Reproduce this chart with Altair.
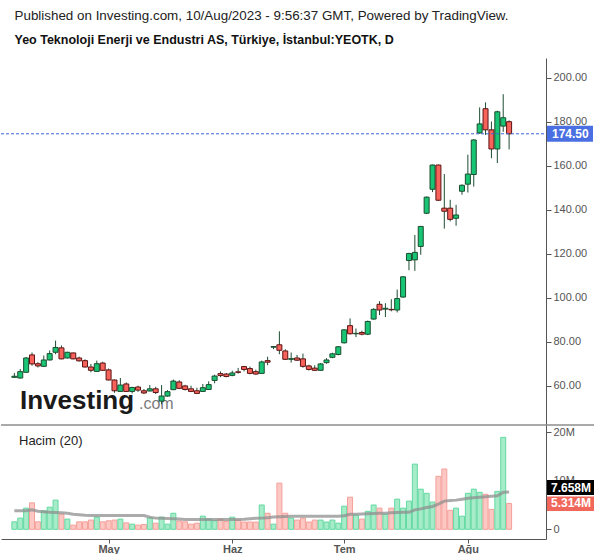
import altair as alt
import pandas as pd

# ---------------- data ----------------
opens = [63.8, 63.5, 66.1, 74.0, 70.0, 68.8, 71.7, 75.2, 77.2, 72.6,
         74.9, 72.6, 71.4, 68.5, 66.5, 70.3, 67.2, 62.6, 57.4, 60.8,
         57.4, 59.4, 57.7, 57.6, 58.6, 53.0, 55.3, 58.2, 61.7, 59.9,
         58.6, 57.7, 57.4, 58.3, 62.4, 65.5, 65.3, 64.7, 66.3, 68.7,
         67.8, 66.4, 65.6, 71.4, 77.5, 78.6, 75.8, 72.0, 72.6, 72.2,
         69.0, 68.0, 67.0, 70.5, 72.9, 74.2, 79.5, 87.3, 83.6, 84.2,
         83.4, 90.3, 97.0, 94.8, 94.7, 94.4, 100.3, 116.9, 117.2, 123.3,
         138.4, 149.3, 160.3, 140.7, 140.7, 136.1, 148.4, 151.6, 156.0, 174.9,
         185.9, 176.3, 167.6, 178.0, 180.0]
highs = [65.8, 67.6, 73.0, 75.1, 70.7, 73.7, 76.0, 80.5, 78.3, 75.4,
         75.0, 73.2, 72.0, 69.9, 71.4, 70.9, 67.8, 62.8, 63.5, 61.5,
         59.5, 60.0, 58.5, 60.3, 59.5, 60.3, 58.0, 62.8, 62.5, 60.4,
         60.0, 59.1, 60.8, 62.0, 65.0, 66.5, 65.8, 66.8, 68.1, 69.0,
         68.7, 67.3, 71.4, 73.2, 77.9, 84.7, 76.6, 75.1, 74.0, 74.6,
         69.5, 69.3, 70.3, 72.5, 75.0, 78.0, 85.6, 90.6, 86.0, 85.0,
         89.6, 95.2, 98.4, 97.5, 99.3, 103.7, 109.8, 120.4, 128.5, 132.6,
         146.0, 160.5, 160.5, 156.2, 144.5, 142.2, 151.5, 165.0, 172.0, 186.5,
         188.8, 180.1, 185.0, 192.5, 180.6]
lows = [63.6, 63.3, 66.0, 69.1, 68.3, 68.6, 71.5, 74.3, 72.0, 72.4,
        72.0, 71.0, 68.3, 66.1, 66.3, 66.8, 62.4, 56.8, 57.2, 57.2,
        56.5, 57.2, 56.2, 57.4, 56.2, 51.6, 55.0, 58.0, 58.5, 57.8,
        57.1, 56.3, 57.2, 58.1, 61.1, 63.9, 63.8, 64.3, 65.5, 66.5,
        65.2, 65.0, 65.4, 69.3, 76.6, 74.3, 71.8, 70.5, 71.2, 68.2,
        66.9, 66.8, 66.8, 70.0, 72.5, 73.8, 79.2, 83.3, 82.1, 82.9,
        83.0, 90.0, 92.1, 91.2, 93.8, 93.3, 100.0, 112.5, 112.2, 119.5,
        138.0, 148.0, 144.0, 131.4, 134.7, 132.7, 146.8, 147.8, 150.5, 174.5,
        174.0, 163.4, 161.2, 175.4, 167.4]
closes = [64.3, 66.4, 72.6, 69.9, 69.0, 71.7, 74.6, 77.4, 72.2, 75.2,
          72.2, 71.3, 68.5, 67.0, 70.0, 67.0, 62.6, 57.7, 60.3, 57.4,
          59.2, 58.0, 56.7, 58.6, 56.9, 55.3, 57.3, 62.1, 58.8, 58.3,
          57.4, 56.5, 59.1, 60.5, 64.4, 64.6, 64.2, 65.8, 66.1, 67.4,
          65.6, 65.3, 70.8, 70.7, 77.8, 76.1, 72.0, 72.3, 71.6, 68.8,
          67.4, 67.0, 69.9, 71.7, 74.5, 77.7, 85.4, 83.6, 83.8, 83.4,
          89.2, 94.7, 94.4, 95.2, 94.5, 99.6, 109.5, 120.1, 120.6, 132.4,
          145.7, 160.3, 144.3, 139.3, 135.6, 137.6, 151.1, 156.2, 171.7, 179.0,
          176.3, 167.6, 184.5, 181.8, 174.5]
volumes = [1.54, 2.3, 4.35, 5.44, 1.54, 3.8, 4.55, 6.0, 3.1, 2.1,
           0.86, 1.54, 1.54, 1.9, 2.5, 1.54, 1.75, 1.9, 2.1, 1.33,
           1.06, 0.86, 1.0, 2.3, 1.26, 2.5, 1.06, 3.3, 1.7, 1.54,
           1.06, 1.26, 2.7, 2.1, 1.75, 2.1, 1.6, 2.5, 1.9, 1.5,
           1.5, 1.5, 5.0, 3.3, 1.06, 9.5, 3.3, 2.3, 1.9, 2.3,
           1.5, 1.9, 1.9, 1.5, 1.9, 1.26, 4.76, 6.6, 2.9, 2.1,
           3.7, 5.0, 4.35, 3.1, 4.35, 6.2, 4.35, 5.8, 13.4, 8.25,
           7.4, 5.6, 10.9, 12.4, 3.9, 4.35, 2.7, 7.4, 8.25, 7.6,
           7.2, 4.1, 7.8, 18.9, 5.314]
vol_ma = [3.8, 3.8, 3.8, 4.0, 3.7, 3.6, 3.5, 3.45, 3.4, 3.3,
          3.1, 3.0, 2.9, 2.85, 2.85, 2.85, 2.85, 2.85, 2.85, 2.85,
          2.85, 2.85, 2.85, 2.5, 2.3, 2.25, 2.2, 2.15, 2.1, 2.0,
          2.0, 2.0, 2.0, 2.0, 2.0, 2.0, 2.0, 2.0, 2.0, 2.05,
          2.15, 2.25, 2.3, 2.4, 2.55, 2.6, 2.65, 2.7, 2.7, 2.7,
          2.7, 2.7, 2.7, 2.7, 2.7, 2.7, 2.8, 3.1, 3.1, 3.15,
          3.2, 3.25, 3.3, 3.3, 3.4, 3.45, 3.5, 3.5, 4.0, 4.2,
          4.5, 4.7, 5.2, 5.8, 5.9, 6.0, 6.2, 6.4, 6.5, 6.6,
          6.7, 6.8, 6.9, 7.6, 7.658]
month_idx = [16, 37, 56, 77]
month_lbl = ["May", "Haz", "Tem", "Ağu"]
price_ticks = [60, 80, 100, 120, 140, 160, 180, 200]
vol_ticks = [0, 10, 20]
last_close = 174.5
last_ma = 7.658
last_vol = 5.314

title_line = "Published on Investing.com, 10/Aug/2023 - 9:56:37 GMT, Powered by TradingView."
subtitle_line = "Yeo Teknoloji Enerji ve Endustri AS, Türkiye, İstanbul:YEOTK, D"

# ---------------- frames ----------------
df = pd.DataFrame({"i": list(range(len(opens))), "open": opens, "high": highs,
                   "low": lows, "close": closes, "vol": volumes, "ma": vol_ma})
last_df = pd.DataFrame({"p": [last_close], "ma": [last_ma], "v": [last_vol]})

FONT = "Liberation Sans"
AX = "#555555"
W, HP, HV = 545, 366, 114

xs = alt.Scale(domain=[-1.417, 89.417], nice=False, zero=False)
ys = alt.Scale(domain=[42.6, 208.95], nice=False, zero=False)
yv = alt.Scale(domain=[-1.99, 21.44], nice=False, zero=False)

up = "datum.close >= datum.open"

# ---------------- price panel ----------------
base = alt.Chart(df).encode(x=alt.X("i:Q", scale=xs, axis=None))

logo1 = alt.Chart(pd.DataFrame({"t": ["Investing"]})).mark_text(
    align="left", baseline="alphabetic", font=FONT, fontSize=26, fontWeight="bold",
    color="#1a1a1a").encode(text="t:N", x=alt.value(19), y=alt.value(351))
logo2 = alt.Chart(pd.DataFrame({"t": [".com"]})).mark_text(
    align="left", baseline="alphabetic", font=FONT, fontSize=16,
    color="#7a7a7a").encode(text="t:N", x=alt.value(138), y=alt.value(351))

wick = base.mark_rule(color="#1e4d33", strokeWidth=1).encode(
    y=alt.Y("low:Q", scale=ys, axis=alt.Axis(
        orient="right", values=price_ticks, format=".2f", title=None, grid=False,
        labelColor=AX, labelFontSize=11, labelFont=FONT, tickColor=AX, tickSize=5,
        domainColor=AX, labelPadding=2)),
    y2="high:Q")
body = base.mark_bar(size=5, strokeWidth=1).encode(
    y=alt.Y("open:Q", scale=ys), y2="close:Q",
    fill=alt.condition(up, alt.value("#17c574"), alt.value("#f7635a")),
    stroke=alt.condition(up, alt.value("#1a4d2e"), alt.value("#5c1414")))

pline = alt.Chart(last_df).mark_rule(color="#3e64d8", strokeDash=[3, 2], strokeWidth=1).encode(
    y=alt.Y("p:Q", scale=ys), x=alt.value(0), x2=alt.value(W))
pbox = alt.Chart(last_df).mark_rect(color="#4a6fe3", yOffset=-8, y2Offset=8).encode(
    y=alt.Y("p:Q", scale=ys), y2="p:Q", x=alt.value(546), x2=alt.value(592))
ptxt = alt.Chart(last_df).mark_text(align="left", baseline="middle", font=FONT, fontSize=12,
                                    fontWeight="bold", color="white").encode(
    y=alt.Y("p:Q", scale=ys), x=alt.value(551), text=alt.Text("p:Q", format=".2f"))

price = alt.layer(logo1, logo2, wick, body, pline, pbox, ptxt).properties(width=W, height=HP)

# ---------------- volume panel ----------------
label_expr = " : ".join(f"datum.value == {v} ? '{t}'" for v, t in zip(month_idx[:-1], month_lbl[:-1])) \
    + f" : '{month_lbl[-1]}'"
vbase = alt.Chart(df).encode(x=alt.X("i:Q", scale=xs, axis=alt.Axis(
    orient="bottom", values=month_idx, labelExpr=label_expr, title=None, grid=False,
    labelColor=AX, labelFontSize=11, labelFontWeight="bold", labelFont=FONT,
    tickColor=AX, tickSize=4, domainColor=AX, labelPadding=0)))

vbars = vbase.mark_bar(size=5, strokeWidth=1).encode(
    y=alt.Y("vol:Q", scale=yv, axis=alt.Axis(
        orient="right", values=vol_ticks, title=None, grid=False,
        labelExpr="datum.value == 0 ? '0' : datum.value + 'M'",
        labelColor=AX, labelFontSize=11, labelFont=FONT, tickColor=AX, tickSize=5,
        domainColor=AX, labelPadding=2)),
    y2=alt.datum(0),
    fill=alt.condition(up, alt.value("#a6ecc9"), alt.value("#fdc7c3")),
    stroke=alt.condition(up, alt.value("#63d9a2"), alt.value("#f5a09a")))
vma = vbase.mark_line(color="#8f8f8f", strokeWidth=3, opacity=0.75).encode(
    y=alt.Y("ma:Q", scale=yv))
sep = alt.Chart(last_df).mark_rule(color=AX, strokeWidth=1).encode(
    x=alt.value(0), x2=alt.value(593), y=alt.value(0))
hacim = alt.Chart(pd.DataFrame({"t": ["Hacim (20)"]})).mark_text(
    align="left", baseline="middle", font=FONT, fontSize=13, color="#222222").encode(
    text="t:N", x=alt.value(18), y=alt.value(16))
mabox = alt.Chart(last_df).mark_rect(color="#000000", yOffset=-12, y2Offset=3).encode(
    y=alt.Y("ma:Q", scale=yv), y2="ma:Q", x=alt.value(546), x2=alt.value(593))
matxt = alt.Chart(last_df).mark_text(align="left", baseline="middle", dy=-4.5, font=FONT,
                                     fontSize=12, fontWeight="bold", color="white").encode(
    y=alt.Y("ma:Q", scale=yv), x=alt.value(550),
    text=alt.Text("label:N")).transform_calculate(label="format(datum.ma, '.3f') + 'M'")
vbox = alt.Chart(last_df).mark_rect(color="#f2675c", yOffset=-7, y2Offset=7.5).encode(
    y=alt.Y("v:Q", scale=yv), y2="v:Q", x=alt.value(546), x2=alt.value(593))
vtxt = alt.Chart(last_df).mark_text(align="left", baseline="middle", font=FONT,
                                    fontSize=12, fontWeight="bold", color="white").encode(
    y=alt.Y("v:Q", scale=yv), x=alt.value(550),
    text=alt.Text("label:N")).transform_calculate(label="format(datum.v, '.3f') + 'M'")

volume = alt.layer(vbars, vma, sep, hacim, mabox, matxt, vbox, vtxt).properties(width=W, height=HV)

chart = alt.vconcat(price, volume, spacing=0).properties(
    title=alt.TitleParams(
        text=title_line, subtitle=subtitle_line, anchor="start", dx=14,
        font=FONT, fontSize=13.4, fontWeight="normal", color="#222222",
        subtitleFont=FONT, subtitleFontSize=12.5, subtitleFontWeight="bold",
        subtitleColor="#111111", subtitlePadding=11, offset=12),
    padding={"left": 0, "top": 9, "right": 0, "bottom": 0},
    background="white",
).configure_view(strokeWidth=0)

chart.save("out.html", embed_options={"renderer": "svg", "actions": False})
